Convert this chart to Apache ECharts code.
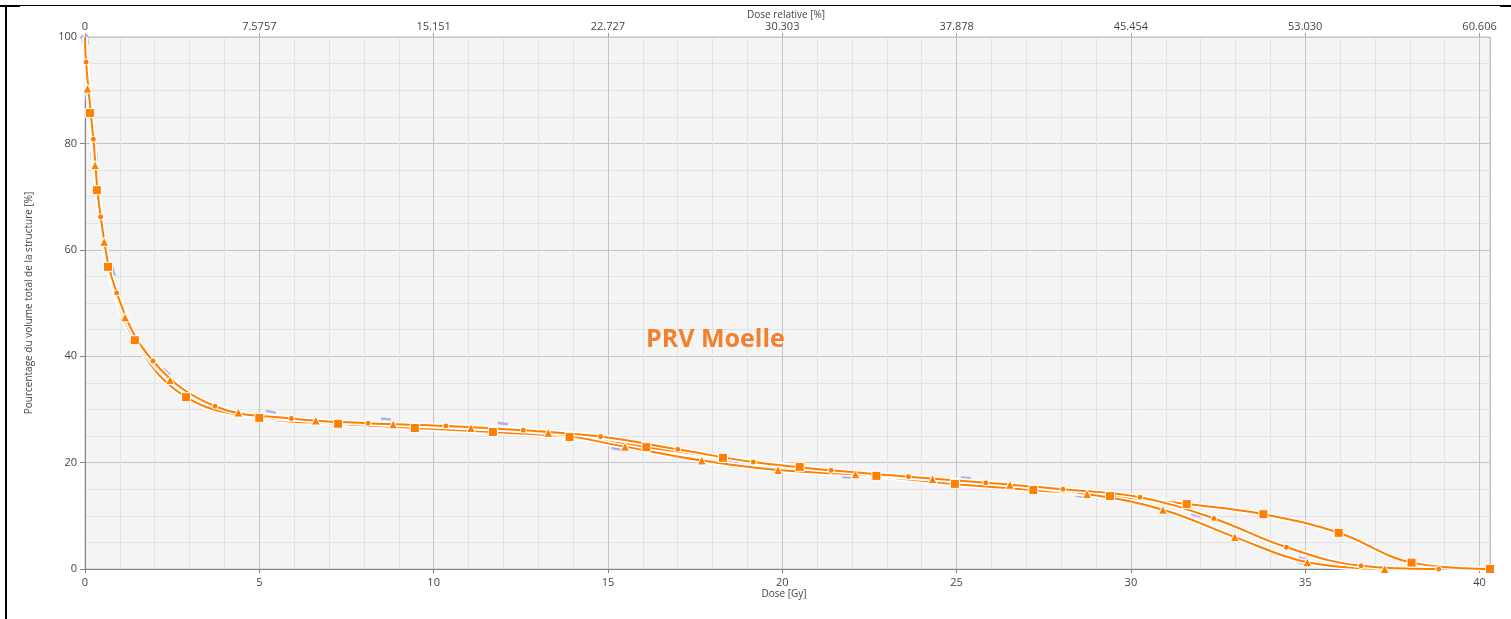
<!DOCTYPE html>
<html>
<head>
<meta charset="utf-8">
<script src="https://cdn.jsdelivr.net/npm/echarts@6/dist/echarts.min.js"></script>
<style>
    html, body { margin: 0; padding: 0; background: #fff; }
    #chart { width: 1511px; height: 619px; }
</style>
</head>
<body>
<div id="chart"></div>
<script>
// DVH - PRV Moelle : dose [Gy] / volume [%]
var circleDose = [0, 0.03, 0.24, 0.45, 0.91, 1.95, 3.73, 5.92, 8.12, 10.35, 12.57, 14.79, 17.0, 19.17, 21.4, 23.62, 25.84, 28.05, 30.26, 32.38, 34.46, 36.6, 38.83];
var circlePct  = [100, 95.3, 80.8, 66.2, 51.9, 39.1, 30.6, 28.3, 27.4, 26.9, 26.1, 24.9, 22.5, 20.1, 18.55, 17.35, 16.2, 15.0, 13.5, 9.5, 4.1, 0.6, 0.0];

var triDose = [0, 0.07, 0.29, 0.55, 1.15, 2.44, 4.4, 6.62, 8.84, 11.07, 13.29, 15.49, 17.69, 19.88, 22.1, 24.31, 26.53, 28.74, 30.92, 32.98, 35.06, 37.28];
var triPct  = [100, 90.3, 75.9, 61.5, 47.3, 35.5, 29.4, 27.9, 27.2, 26.5, 25.6, 23.0, 20.4, 18.6, 17.8, 16.9, 15.85, 14.1, 11.15, 6.0, 1.25, 0.0];

var squareDose = [0, 0.14, 0.34, 0.66, 1.43, 2.9, 5.0, 7.26, 9.46, 11.7, 13.9, 16.1, 18.3, 20.5, 22.7, 24.95, 27.2, 29.4, 31.6, 33.8, 35.96, 38.05, 40.3];
var squarePct  = [100, 85.7, 71.2, 56.8, 43.0, 32.3, 28.4, 27.3, 26.5, 25.75, 24.8, 22.9, 20.9, 19.2, 17.5, 16.0, 14.85, 13.7, 12.2, 10.3, 6.8, 1.2, 0.0];

var lavDose = [0, 0.26, 0.75, 2.29, 5.32, 8.63, 11.98, 15.25, 18.6, 21.87, 25.26, 28.55, 31.85, 34.92];
var lavPct  = [99.5, 77.6, 55.9, 36.8, 29.1, 27.75, 26.9, 23.0, 19.7, 17.67, 16.7, 14.1, 9.65, 1.5];

var doseTicks = [0, 5, 10, 15, 20, 25, 30, 35, 40];
var relTickLabels = ['0', '7.5757', '15.151', '22.727', '30.303', '37.878', '45.454', '53.030', '60.606'];

var ORANGE = '#ff7f00';
var chart = echarts.init(document.getElementById('chart'));

function pairs(xs, ys) {
    return xs.map(function (x, i) {
        // first point (0,100) has no marker
        if (i === 0 && ys[i] === 100) return { value: [x, ys[i]], symbol: 'none' };
        return [x, ys[i]];
    });
}

// orientation of the lavender marks, following the curve on screen
function lavRotate(i) {
    var a = Math.max(0, i - 1), b = Math.min(lavDose.length - 1, i + 1);
    var dx = (lavDose[b] - lavDose[a]) * 34.87;
    var dy = (lavPct[b] - lavPct[a]) * 5.32;
    return Math.atan2(dy, dx) * 180 / Math.PI;
}

function halo(xs, ys) {
    return {
        type: 'line', data: pairs(xs, ys), smooth: 0.4,
        symbol: 'none', silent: true,
        lineStyle: { color: '#ffffff', width: 5 }
    };
}
function curve(xs, ys, symbol, size) {
    return {
        type: 'line', data: pairs(xs, ys), smooth: 0.4,
        symbol: symbol, symbolSize: size, showAllSymbol: true,
        lineStyle: { color: ORANGE, width: 2 },
        itemStyle: { color: ORANGE, borderColor: '#ffffff', borderWidth: 1 }
    };
}

var axisText = { color: '#444', fontSize: 11, fontFamily: 'Open Sans' };
var nameText = { color: '#444', fontSize: 10, fontFamily: 'Open Sans' };

var option = {
    animation: false,
    backgroundColor: '#ffffff',
    grid: {
        left: 85, right: 21, top: 37, bottom: 50,
        show: true, backgroundColor: '#f4f4f4', borderColor: '#c4c4c4', borderWidth: 1
    },
    xAxis: [{
        type: 'value', position: 'bottom', min: 0, max: 40.3, interval: 5,
        axisLine: { show: true, lineStyle: { color: '#808080', width: 1 } },
        axisTick: { show: true, length: 4, lineStyle: { color: '#808080' } },
        axisLabel: Object.assign({ margin: 8, showMaxLabel: false }, axisText),
        splitLine: { show: true, lineStyle: { color: '#c4c4c4', width: 1 } },
        minorTick: { show: false, splitNumber: 5 },
        minorSplitLine: { show: true, lineStyle: { color: '#e2e2e2', width: 1 } }
    }, {
        type: 'value', position: 'top', min: 0, max: 40.3, interval: 5,
        axisLine: { show: true, lineStyle: { color: '#c4c4c4', width: 1 } },
        axisTick: { show: true, length: 4, lineStyle: { color: '#999' } },
        axisLabel: Object.assign({
            margin: 5, showMaxLabel: false,
            formatter: function (v) {
                var i = doseTicks.indexOf(Math.round(v * 1000) / 1000);
                return i >= 0 ? relTickLabels[i] : '';
            }
        }, axisText),
        splitLine: { show: false }
    }],
    yAxis: {
        type: 'value', min: 0, max: 100, interval: 20,
        name: 'Pourcentage du volume total de la structure [%]', nameLocation: 'middle', nameGap: 51, nameRotate: 90,
        nameTextStyle: nameText,
        axisLine: { show: true, lineStyle: { color: '#808080', width: 1 } },
        axisTick: { show: true, length: 5, lineStyle: { color: '#808080' } },
        axisLabel: Object.assign({ margin: 8 }, axisText),
        splitLine: { show: true, lineStyle: { color: '#c4c4c4', width: 1 } },
        minorTick: { show: false, splitNumber: 4 },
        minorSplitLine: { show: true, lineStyle: { color: '#e2e2e2', width: 1 } }
    },
    series: [
        {
            type: 'scatter',
            data: lavDose.map(function (d, i) {
                return { value: [d, lavPct[i]], symbolRotate: lavRotate(i) };
            }),
            symbol: 'path://M0,0L12,0L12,3L0,3Z M0,6L12,6L12,9L0,9Z',
            symbolSize: [10, 7],
            itemStyle: { color: '#aeaef0', opacity: 1 },
            silent: true
        },
        halo(squareDose, squarePct),
        curve(squareDose, squarePct, 'rect', 9),
        halo(triDose, triPct),
        curve(triDose, triPct, 'triangle', 9),
        halo(circleDose, circlePct),
        curve(circleDose, circlePct, 'circle', 6)
    ],
    graphic: [
        { type: 'text', left: 646, top: 327, z: 100,
          style: { text: 'PRV Moelle', fill: '#f2802f', fontSize: 25, fontWeight: 'bold', fontFamily: 'Open Sans' } },
        { type: 'text', x: 786, y: 15,
          style: { text: 'Dose relative [%]', fill: '#444', fontSize: 10, fontFamily: 'Open Sans', align: 'center', verticalAlign: 'middle' } },
        { type: 'text', x: 784, y: 594,
          style: { text: 'Dose [Gy]', fill: '#444', fontSize: 10, fontFamily: 'Open Sans', align: 'center', verticalAlign: 'middle' } },
        { type: 'rect', shape: { x: 0, y: 5, width: 1500, height: 1 }, style: { fill: '#000' } },
        { type: 'rect', shape: { x: 0, y: 5, width: 20, height: 2 }, style: { fill: '#000' } },
        { type: 'rect', shape: { x: 1500, y: 5, width: 11, height: 2 }, style: { fill: '#000' } },
        { type: 'rect', shape: { x: 5, y: 5, width: 2, height: 614 }, style: { fill: '#000' } }
    ]
};

chart.setOption(option);
</script>
</body>
</html>
